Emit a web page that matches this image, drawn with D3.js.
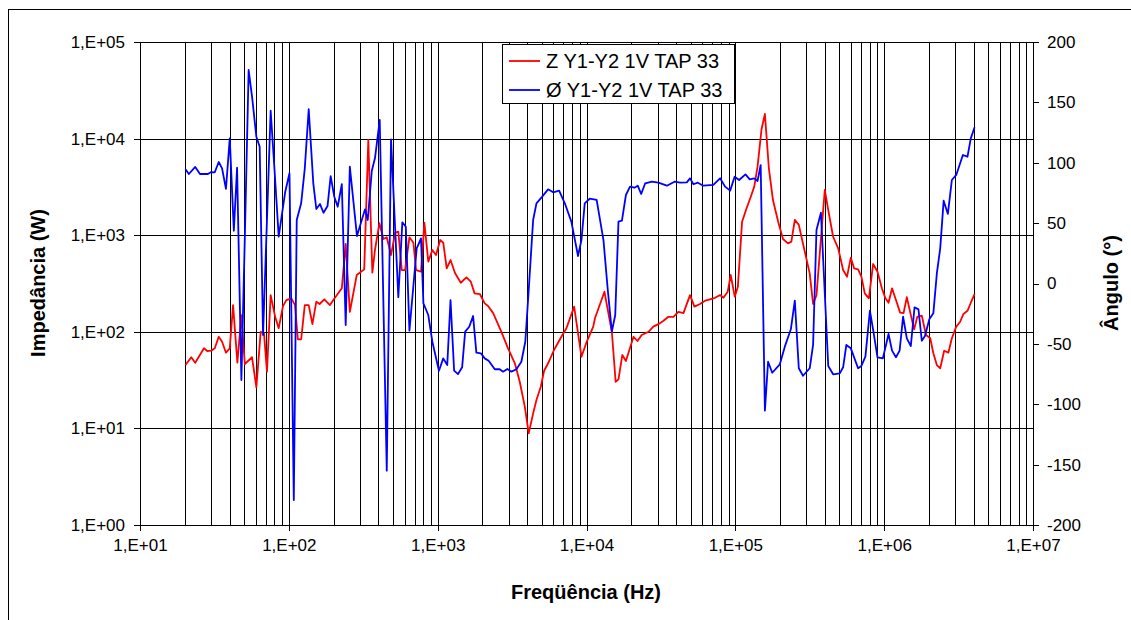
<!DOCTYPE html>
<html><head><meta charset="utf-8">
<script src="https://cdn.jsdelivr.net/npm/d3@7"></script>
<style>
html,body{margin:0;padding:0;background:#fff;}
svg{display:block;font-family:"Liberation Sans",Arial,sans-serif;}
</style></head>
<body>
<svg id="c" width="1131" height="620"></svg>
<script>
// ---- data ----
const seriesNames = ["Z Y1-Y2 1V TAP 33", "Ø Y1-Y2 1V TAP 33"];
const xTickValues = [1e1, 1e2, 1e3, 1e4, 1e5, 1e6, 1e7];
const xTickLabels = ["1,E+01", "1,E+02", "1,E+03", "1,E+04", "1,E+05", "1,E+06", "1,E+07"];
const yLeftTickValues = [1, 1e1, 1e2, 1e3, 1e4, 1e5];
const yLeftTickLabels = ["1,E+00", "1,E+01", "1,E+02", "1,E+03", "1,E+04", "1,E+05"];
const yRightTickValues = [-200, -150, -100, -50, 0, 50, 100, 150, 200];

// impedance magnitude (Ohm) vs frequency (Hz)
const zFreq = [20.2,22.1,23.5,26.9,28.3,30.1,31.8,33.8,35.6,37.8,40.1,42.2,45.1,48.0,50.6,56.6,60.5,64.7,68.1,71.3,75.5,81.1,85.5,91.4,96.2,104,110,115,121,128,136,144,153,161,173,189,199,227,241,257,286,321,342,364,379,406,432,455,486,518,544,574,604,646,687,716,773,814,865,921,975,1040,1090,1150,1220,1310,1430,1560,1670,1770,1920,2070,2180,2360,2680,2970,3300,3560,3850,4090,4380,4610,4930,5190,5520,6050,6780,7330,8260,9250,9980,11100,11400,13200,14800,15700,16400,17400,18400,20700,22000,23500,26100,28100,30400,32900,35500,38400,41400,44800,49600,53100,57900,62600,67600,73100,79000,83200,88900,93100,99100,104000,111000,119000,127000,134000,141000,150000,158000,168000,179000,194000,209000,226000,238000,251000,267000,293000,316000,333000,351000,399000,421000,454000,491000,530000,563000,597000,628000,668000,703000,741000,789000,843000,902000,965000,1020000,1070000,1130000,1200000,1280000,1350000,1420000,1500000,1590000,1670000,1790000,1910000,2040000,2140000,2260000,2380000,2530000,2700000,2850000,3050000,3240000,3410000,3630000,3820000,4050000];
const zImp = [45.3,54.5,47.9,67.5,63.3,63.7,67.5,88.9,79.0,60.8,67.5,189,47.9,149,46.4,54.5,26.6,100,96.4,38.6,240,141,109,185,213,222,189,83.6,83.6,189,189,120,205,194,217,189,213,282,811,161,387,443,9680,409,703,1330,914,951,624,1060,1090,436,436,951,836,436,419,1350,532,703,624,891,836,454,553,403,322,366,330,250,246,197,185,156,100,67.5,47.2,30.4,16.8,8.9,14.3,19.7,27.0,39.5,47.2,64.8,88.9,109,182,55.2,77.1,113,138,260,100,30.4,32.2,57.5,49.9,88.9,80.3,92.7,100,113,120,130,143,143,161,156,240,182,194,210,217,225,240,225,260,387,231,293,1380,1900,2500,3180,5120,12500,18000,4930,2310,1380,914,824,857,1440,1280,675,403,194,240,2940,1820,964,731,436,372,585,454,443,372,250,222,503,419,282,222,200,282,213,158,156,228,156,106,143,147,92.7,85.7,59.9,45.3,41.9,63.7,60.8,85.7,113,127,153,165,200,246];

// phase angle (degrees) vs frequency (Hz)
const phFreq = [20.2,21.3,23.5,25.3,28.6,30.1,31.8,33.8,35.6,37.8,40.1,42.7,44.9,48.0,50.6,53.7,56.6,60.5,63.7,67.1,75.5,80.4,85.5,94.6,101,108,113,121,128,136,146,153,162,171,182,191,202,213,227,241,257,287,325,339,361,379,408,455,486,544,579,611,646,723,773,802,865,921,1020,1090,1160,1220,1290,1370,1460,1530,1630,1730,1820,1950,2070,2200,2420,2610,2750,2940,3130,3380,3650,3880,4090,4380,4610,5040,5520,5970,6550,7150,7910,8770,9250,9730,10500,11700,13000,13900,14800,15600,16400,17300,18400,19600,21000,22100,23300,24800,27500,30400,34700,39000,42600,47200,49600,52300,55900,61000,71100,79000,85300,92300,98900,106000,117000,125000,134000,141000,148000,158000,166000,177000,199000,215000,236000,251000,267000,285000,316000,333000,351000,376000,421000,454000,503000,530000,557000,597000,668000,703000,748000,802000,847000,902000,980000,1070000,1130000,1200000,1270000,1340000,1420000,1510000,1600000,1700000,1790000,1880000,2010000,2140000,2260000,2380000,2510000,2680000,2850000,3050000,3380000,3630000,3820000,4050000];
const phAng = [94.6,90.7,96.5,90.7,90.7,92.3,92.1,100.6,95.4,78.3,120.2,43.7,95.9,-79.9,37.4,176.8,154.7,121.6,113.3,-42.7,143.1,91.3,38.8,76,91.3,-179.3,52.6,66.4,95.4,144.3,83,61.7,65.8,58.6,64.2,89,71.9,63.6,82.2,-34.4,96.7,39.3,61.4,52.6,93.4,103.7,135.4,-155,119.4,-11.4,50.7,47,-39.1,29.1,37.4,-16.4,-26.1,-48.2,-72.2,-62,-67.5,-13.7,-72.2,-75,-69.4,-39.9,-35.8,-26.9,-57.3,-57.8,-62,-63.9,-71,-71,-73,-70.8,-73,-71,-64.8,-48.2,-5.4,52.6,66.4,71.9,78,75.5,76.9,66.4,51.2,22.8,36,66.4,70.2,69.2,36,-5.4,-39.9,-26.1,51.2,52,73.3,80.2,79.3,81,74.1,83,84.3,83.5,81,84.3,83.5,83.8,87.1,82.2,83.5,81,81.6,87.1,80.2,76.9,88.4,85.7,90.4,86.3,87.1,84.9,98.1,-105.3,-64.8,-73.9,-66.9,-52.3,-37.9,-14.2,-70.2,-76.4,-70.2,-50.9,44.3,58.6,-68.3,-75.2,-74.4,-69.4,-50.9,-53.7,-70.2,-68.3,-60.6,-22.5,-39.9,-61.1,-62,-41.8,-55.6,-61.1,-55.6,-27.5,-45.4,-51.8,-19.7,-21.4,-47.4,-43.5,-29.6,-24.7,8.5,29.1,68.6,57.6,85.7,89.9,106.4,105,120.2,129.4];

// ---- drawing ----
const svg = d3.select("#c");
const L = 140, R = 1033, T = 42, B = 525;
const x = d3.scaleLog().domain([1e1, 1e7]).range([L, R]);
const yL = d3.scaleLog().domain([1, 1e5]).range([B, T]);
const yR = d3.scaleLinear().domain([-200, 200]).range([B, T]);

// outer frame
svg.append("rect").attr("x", 8.5).attr("y", 9.5).attr("width", 1140).attr("height", 640)
  .attr("fill", "none").attr("stroke", "#000").attr("stroke-width", 1);

// grid
const g = svg.append("g").attr("shape-rendering", "crispEdges");
const minorX = x.ticks().filter(v => v > 1e1 && v < 1e7);
g.selectAll("line.vg").data(minorX).join("line")
  .attr("x1", d => Math.round(x(d)) + 0.5).attr("x2", d => Math.round(x(d)) + 0.5)
  .attr("y1", T).attr("y2", B).attr("stroke", "#000").attr("stroke-width", 1);
g.selectAll("line.hg").data(yLeftTickValues.slice(1, -1)).join("line")
  .attr("x1", L).attr("x2", R)
  .attr("y1", d => Math.round(yL(d)) + 0.5).attr("y2", d => Math.round(yL(d)) + 0.5)
  .attr("stroke", "#000").attr("stroke-width", 1);
// plot border
g.append("rect").attr("x", L + 0.5).attr("y", T + 0.5).attr("width", R - L).attr("height", B - T)
  .attr("fill", "none").attr("stroke", "#000").attr("stroke-width", 1);

// axes
const fs = 17;
const axB = svg.append("g").attr("transform", `translate(0,${B})`)
  .call(d3.axisBottom(x).tickValues(xTickValues).tickSize(6).tickSizeOuter(0).tickPadding(8)
    .tickFormat((d, i) => xTickLabels[i]));
const axL = svg.append("g").attr("transform", `translate(${L},0)`)
  .call(d3.axisLeft(yL).tickValues(yLeftTickValues).tickSize(6).tickSizeOuter(0).tickPadding(9)
    .tickFormat((d, i) => yLeftTickLabels[i]));
const axR = svg.append("g").attr("transform", `translate(${R},0)`)
  .call(d3.axisRight(yR).tickValues(yRightTickValues).tickSize(6).tickSizeOuter(0).tickPadding(8)
    .tickFormat(d => String(d)));
[axB, axL, axR].forEach(a => {
  a.selectAll("text").attr("font-size", fs).attr("fill", "#000")
    .attr("font-family", "'Liberation Sans', Arial, sans-serif");
  a.selectAll("line").attr("stroke", "#000").attr("shape-rendering", "crispEdges");
  a.select(".domain").attr("stroke", "#000").attr("shape-rendering", "crispEdges");
});

// series
const lineZ = d3.line().x(d => x(d[0])).y(d => yL(d[1]));
const lineP = d3.line().x(d => x(d[0])).y(d => yR(d[1]));
const zData = zFreq.map((f, i) => [f, zImp[i]]);
const pData = phFreq.map((f, i) => [f, phAng[i]]);
svg.append("path").datum(zData).attr("d", lineZ)
  .attr("fill", "none").attr("stroke", "#ff0000").attr("stroke-width", 1.8).attr("stroke-linejoin", "round");
svg.append("path").datum(pData).attr("d", lineP)
  .attr("fill", "none").attr("stroke", "#0000ff").attr("stroke-width", 1.8).attr("stroke-linejoin", "round");

// axis titles
const tfs = 20;
svg.append("text").attr("x", 586).attr("y", 599).attr("text-anchor", "middle")
  .attr("font-size", tfs).attr("font-weight", "bold").text("Freqüência (Hz)");
svg.append("text").attr("transform", "translate(45,283) rotate(-90)").attr("text-anchor", "middle")
  .attr("font-size", tfs).attr("font-weight", "bold").text("Impedância (W)");
svg.append("text").attr("transform", "translate(1118,283) rotate(-90)").attr("text-anchor", "middle")
  .attr("font-size", tfs).attr("font-weight", "bold").text("Ângulo (°)");

// legend
const lg = svg.append("g");
lg.append("rect").attr("x", 502.5).attr("y", 44.5).attr("width", 232).attr("height", 59)
  .attr("fill", "#fff").attr("stroke", "#000").attr("stroke-width", 1).attr("shape-rendering", "crispEdges");
const colors = ["#ff0000", "#0000ff"];
seriesNames.forEach((n, i) => {
  const yy = 61 + i * 29;
  lg.append("line").attr("x1", 509).attr("x2", 540).attr("y1", yy).attr("y2", yy)
    .attr("stroke", colors[i]).attr("stroke-width", 1.8);
  lg.append("text").attr("x", 546).attr("y", yy + 7).attr("font-size", 20).text(n);
});
</script>
</body></html>
